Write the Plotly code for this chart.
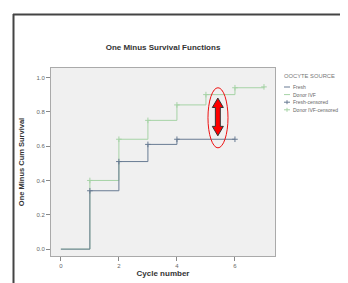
import plotly.graph_objects as go

# ---- data ----
group_names = ["Fresh", "Donor IVF"]
censor_names = ["Fresh-censored", "Donor IVF-censored"]
legend_title = "OOCYTE SOURCE"

fresh_cycles = [0, 1, 2, 3, 4, 6]
fresh_values = [0.0, 0.34, 0.51, 0.61, 0.64, 0.64]
fresh_cens_x = [1, 2, 3, 4, 6]
fresh_cens_y = [0.34, 0.51, 0.61, 0.64, 0.64]

donor_cycles = [0, 1, 2, 3, 4, 5, 6, 7]
donor_values = [0.0, 0.40, 0.64, 0.75, 0.84, 0.90, 0.94, 0.945]
donor_cens_x = [1, 2, 3, 4, 5, 6, 7]
donor_cens_y = [0.40, 0.64, 0.75, 0.84, 0.90, 0.94, 0.945]

x_ticks = [0, 2, 4, 6]
y_ticks = [0.0, 0.2, 0.4, 0.6, 0.8, 1.0]

# ---- style ----
c_fresh = "#687b93"
c_donor = "#a6d3a6"
W, H = 348, 283
L, R, T, B = 43, 81, 60, 35

fig = go.Figure()
fig.add_trace(go.Scatter(x=donor_cycles, y=donor_values, mode="lines", line_shape="hv",
                         line=dict(color=c_donor, width=1), showlegend=False))
fig.add_trace(go.Scatter(x=donor_cens_x, y=donor_cens_y, mode="markers",
                         marker=dict(symbol="cross-thin", size=4, line=dict(color=c_donor, width=1)),
                         showlegend=False))
fig.add_trace(go.Scatter(x=fresh_cycles, y=fresh_values, mode="lines", line_shape="hv",
                         line=dict(color=c_fresh, width=1), showlegend=False))
fig.add_trace(go.Scatter(x=fresh_cens_x, y=fresh_cens_y, mode="markers",
                         marker=dict(symbol="cross-thin", size=4, line=dict(color=c_fresh, width=1)),
                         showlegend=False))

pw = W - L - R
ph = H - T - B
def px_x(p):
    return (p - L) / pw
def px_y(p):
    return (H - B - p) / ph

shapes = []
# outer frame lines (top and left)
shapes.append(dict(type="line", xref="paper", yref="paper", x0=px_x(5), x1=px_x(349), y0=px_y(6.5), y1=px_y(6.5),
                   line=dict(color="#444444", width=2)))
shapes.append(dict(type="line", xref="paper", yref="paper", x0=px_x(5.5), x1=px_x(5.5), y0=px_y(6), y1=px_y(284),
                   line=dict(color="#444444", width=2)))

# red ellipse + double arrow highlight
ell = dict(x0=5.07, x1=5.76, y0=0.59, y1=0.94)
shapes.append(dict(type="circle", xref="x", yref="y", line=dict(color="#ee1111", width=1), **ell))
ax, top, bot, hw, sw, hl = 5.41, 0.88, 0.66, 0.19, 0.085, 0.055
path = (f"M {ax},{top} L {ax+hw},{top-hl} L {ax+sw},{top-hl} L {ax+sw},{bot+hl} L {ax+hw},{bot+hl} "
        f"L {ax},{bot} L {ax-hw},{bot+hl} L {ax-sw},{bot+hl} L {ax-sw},{top-hl} L {ax-hw},{top-hl} Z")
shapes.append(dict(type="path", xref="x", yref="y", path=path, fillcolor="#ff0000",
                   line=dict(color="#333333", width=1)))

# manual legend
annotations = []
annotations.append(dict(text=legend_title, xref="paper", yref="paper", x=px_x(274), y=px_y(68),
                        xanchor="left", yanchor="middle", showarrow=False,
                        font=dict(size=5.8, color="#777777", family="Arial")))
entries = [(group_names[0], c_fresh, False), (group_names[1], c_donor, False),
           (censor_names[0], c_fresh, True), (censor_names[1], c_donor, True)]
for i, (name, col, cens) in enumerate(entries):
    yy = 79 + i * 7.6
    shapes.append(dict(type="line", xref="paper", yref="paper", x0=px_x(276), x1=px_x(282),
                       y0=px_y(yy), y1=px_y(yy), line=dict(color=col, width=1)))
    if cens:
        shapes.append(dict(type="line", xref="paper", yref="paper", x0=px_x(279), x1=px_x(279),
                           y0=px_y(yy - 2), y1=px_y(yy + 2), line=dict(color=col, width=1)))
    annotations.append(dict(text=name, xref="paper", yref="paper", x=px_x(283), y=px_y(yy),
                            xanchor="left", yanchor="middle", showarrow=False,
                            font=dict(size=5, color="#666666", family="Arial")))

fig.update_layout(
    width=W, height=H,
    margin=dict(l=L, r=R, t=T, b=B, autoexpand=False),
    paper_bgcolor="white", plot_bgcolor="#f0f0f0",
    title=dict(text="<b>One Minus Survival Functions</b>", x=(L + pw / 2) / W, xanchor="center",
               y=1 - 39 / H, yanchor="middle", font=dict(size=8, color="#333333", family="Arial")),
    shapes=shapes, annotations=annotations, showlegend=False,
)
fig.update_xaxes(range=[-0.34, 7.38], tickvals=x_ticks, ticks="outside", ticklen=4, tickcolor="#888888",
                 showgrid=False, zeroline=False, showline=True, linecolor="#aaaaaa", mirror=True,
                 tickfont=dict(size=6, color="#666666", family="Arial"),
                 title=dict(text="<b>Cycle number</b>", font=dict(size=8, color="#333333", family="Arial"),
                            standoff=1))
fig.update_yaxes(range=[-0.04, 1.055], tickvals=y_ticks, tickformat=".1f", ticks="outside", ticklen=4,
                 tickcolor="#888888", showgrid=False, zeroline=False, showline=True, linecolor="#aaaaaa",
                 mirror=True, tickfont=dict(size=6, color="#666666", family="Arial"),
                 title=dict(text="<b>One Minus Cum Survival</b>", font=dict(size=7.5, color="#333333", family="Arial"),
                            standoff=10))

fig.write_html("out.html")
